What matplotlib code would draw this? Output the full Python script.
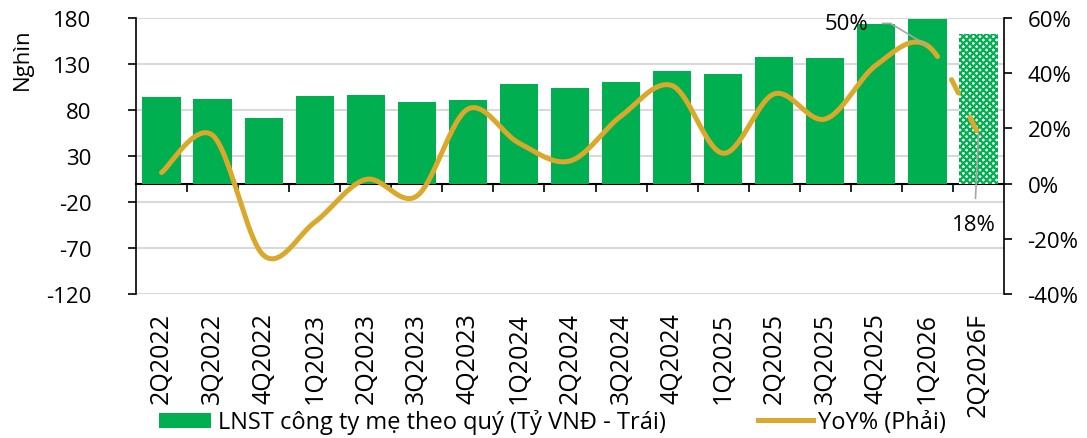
import numpy as np
import matplotlib
matplotlib.use("Agg")
import matplotlib.pyplot as plt
from matplotlib.patches import Patch
from matplotlib.lines import Line2D
from matplotlib.ticker import FixedLocator, FuncFormatter

plt.rcParams['font.family'] = ['Open Sans', 'DejaVu Sans']
plt.rcParams['axes.unicode_minus'] = False
plt.rcParams['hatch.linewidth'] = 1.6

# data
quarters = ["2Q2022", "3Q2022", "4Q2022", "1Q2023", "2Q2023", "3Q2023", "4Q2023",
            "1Q2024", "2Q2024", "3Q2024", "4Q2024", "1Q2025", "2Q2025", "3Q2025",
            "4Q2025", "1Q2026", "2Q2026F"]
profit = [94.5, 92, 71, 95, 96, 88.5, 90.5, 108, 104, 110, 122, 119, 138, 136,
          173.5, 179, 163]
yoy = [4, 17.5, -26, -14, 1.5, -4.5, 27, 14.7, 8.2, 24.5, 35.5, 11, 32.5, 23.4,
       43, 50, 18]
forecast = [False] * 16 + [True]

left_ticks = [-120, -70, -20, 30, 80, 130, 180]
right_ticks = [-40, -20, 0, 20, 40, 60]

GREEN = '#00B050'
GOLD = '#DAA92B'
GRID = '#D9D9D9'
FS = 16


def smooth_segments(xs, ys, n=40):
    # Excel-style smoothed line: cubic bezier with Catmull-Rom control points
    pts = np.column_stack([xs, ys]).astype(float)
    P = np.vstack([pts[0], pts, pts[-1]])
    t = np.linspace(0, 1, n)[:, None]
    segs = []
    for i in range(len(pts) - 1):
        p0, p1, p2, p3 = P[i], P[i + 1], P[i + 2], P[i + 3]
        c1 = p1 + (p2 - p0) / 6
        c2 = p2 - (p3 - p1) / 6
        segs.append((1 - t) ** 3 * p1 + 3 * (1 - t) ** 2 * t * c1
                    + 3 * (1 - t) * t ** 2 * c2 + t ** 3 * p2)
    return segs


fig = plt.figure(figsize=(10.87, 4.39), dpi=100)
ax = fig.add_axes([136 / 1087, 1 - 295 / 439, (1004 - 136) / 1087, (295 - 19) / 439])
x = np.arange(len(quarters))

for xi, v, f in zip(x, profit, forecast):
    if f:
        ax.bar(xi, v, width=0.75, facecolor='white', edgecolor=GREEN, hatch='xxxxx',
               linewidth=0, zorder=2)
    else:
        ax.bar(xi, v, width=0.75, color=GREEN, linewidth=0, zorder=2)

ax.set_xlim(-0.5, len(quarters) - 0.5)
ax.set_ylim(left_ticks[0], left_ticks[-1])
ax.set_yticks(left_ticks)
ax.yaxis.grid(True, color=GRID, linewidth=1.5, zorder=0)
ax.set_axisbelow(True)
ax.tick_params(axis='y', labelsize=FS, length=6, width=1.2, pad=26, direction='out')
ax.set_xticks(x)
ax.set_xticklabels(quarters, rotation=90, fontsize=18, va='top')
ax.tick_params(axis='x', length=0, pad=13)
for s in ['top', 'right', 'bottom']:
    ax.spines[s].set_visible(False)
ax.spines['left'].set_linewidth(1.2)

# category axis drawn at zero
zero_loc = (0 - left_ticks[0]) / (left_ticks[-1] - left_ticks[0])
zax = ax.secondary_xaxis(zero_loc)
zax.xaxis.set_major_locator(FixedLocator(np.arange(0.5, len(quarters) - 0.5, 1.0)))
zax.tick_params(axis='x', direction='out', length=6, width=1.2, labelbottom=False,
                labeltop=False)
zax.set_xticklabels([])
zax.spines['bottom'].set_linewidth(1.5)
zax.spines['top'].set_linewidth(1.5)

ax2 = ax.twinx()
ax2.set_ylim(right_ticks[0], right_ticks[-1])
ax2.set_yticks(right_ticks)
ax2.yaxis.set_major_formatter(FuncFormatter(lambda v, p: f"{v:.0f}%"))
ax2.tick_params(axis='y', labelsize=FS, length=6, width=1.2, pad=11)
for s in ['top', 'left', 'bottom']:
    ax2.spines[s].set_visible(False)
ax2.spines['right'].set_linewidth(1.2)

segs = smooth_segments(x, yoy)
solid = np.vstack(segs[:-1])
ax2.plot(solid[:, 0], solid[:, 1], color=GOLD, linewidth=3.6,
         solid_capstyle='round', solid_joinstyle='round', zorder=3)
ax2.plot(segs[-1][:, 0], segs[-1][:, 1], color=GOLD, linewidth=3.6,
         linestyle=(0, (3, 5.4)), dash_capstyle='round', zorder=3)

ax2.annotate(f"{yoy[-2]:.0f}%", xy=(x[-2], yoy[-2]), xytext=(-58, 16),
             textcoords='offset points', ha='center', va='center', fontsize=FS,
             arrowprops=dict(arrowstyle='-', color='#A6A6A6', lw=1.2,
                             shrinkA=8, shrinkB=0,
                             connectionstyle='angle,angleA=0,angleB=-31,rad=0'))
ax2.annotate(f"{yoy[-1]:.0f}%", xy=(x[-1], yoy[-1]), xytext=(-3, -65),
             textcoords='offset points', ha='center', va='center', fontsize=FS,
             arrowprops=dict(arrowstyle='-', color='#A6A6A6', lw=1.2,
                             shrinkA=9, shrinkB=0))

fig.text(22 / 1087, 1 - 59 / 439, "Nghìn", rotation=90, ha='center', va='center',
         fontsize=FS)

h1 = Patch(facecolor=GREEN, edgecolor='none')
h2 = Line2D([0], [0], color=GOLD, linewidth=3.6)
leg1 = fig.legend([h1], ["LNST công ty mẹ theo quý (Tỷ VNĐ - Trái)"], loc='center left',
                  bbox_to_anchor=(159 / 1087, 1 - 423 / 439), frameon=False,
                  fontsize=17, borderpad=0, borderaxespad=0, handlelength=2.2,
                  handleheight=0.6, handletextpad=0.3)
leg2 = fig.legend([h2], ["YoY% (Phải)"], loc='center left',
                  bbox_to_anchor=(758 / 1087, 1 - 423 / 439), frameon=False,
                  fontsize=17, borderpad=0, borderaxespad=0, handlelength=2.35,
                  handletextpad=0.2)

fig.savefig("out.png", dpi=100)
